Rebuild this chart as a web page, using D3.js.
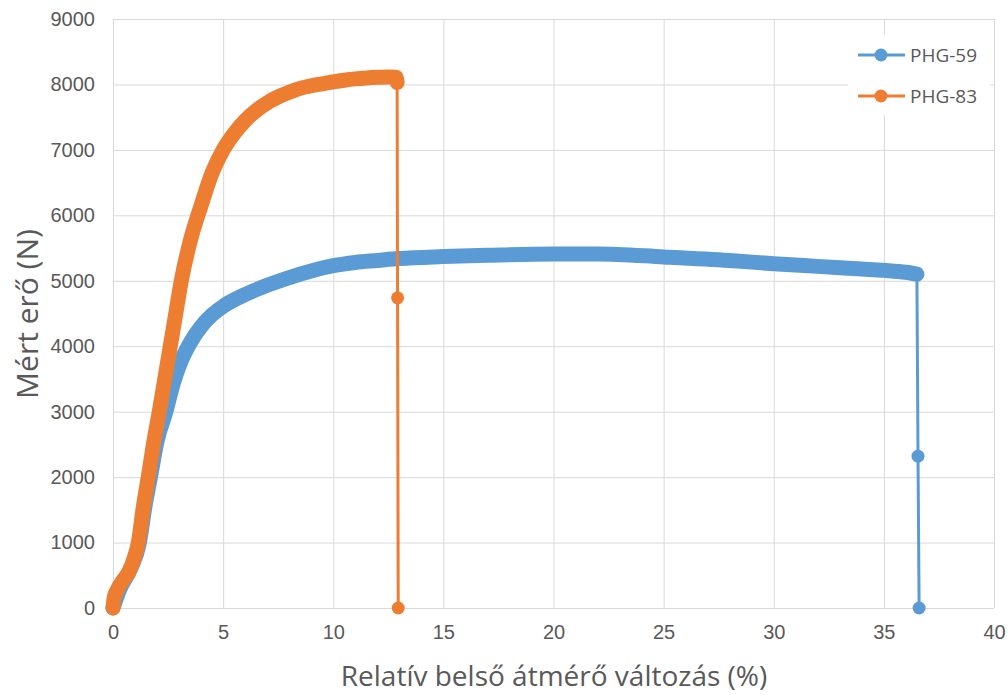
<!DOCTYPE html>
<html>
<head>
<meta charset="utf-8">
<script src="https://cdn.jsdelivr.net/npm/d3@7"></script>
<style>
  body { margin: 0; background: #fff; }
  svg { display: block; font-family: "Open Sans", sans-serif; }
  .tick text { fill: #595959; font-size: 20px; }
  .grid line { stroke: #d9d9d9; stroke-width: 1; }
</style>
</head>
<body>
<figure id="chart" style="margin:0"></figure>
<script>
// data: [relative change %, force N]
const seriesNames = ['PHG-59', 'PHG-83'];
const seriesColors = ['#5b9bd5', '#ed7d31'];

const phg59 = [
  [0, 0], [0.3, 280], [0.8, 600], [1.2, 1000], [1.45, 1550], [1.7, 2000],
  [2.0, 2550], [2.4, 3000], [2.75, 3450], [3.1, 3780], [3.5, 4050], [4.0, 4300],
  [4.5, 4480], [5.0, 4610], [6.0, 4790], [7.0, 4930], [8.0, 5050], [9.0, 5150],
  [10.0, 5230], [11.0, 5280], [12.0, 5310], [13.0, 5340], [15.0, 5370],
  [17.0, 5390], [20.0, 5410], [22.0, 5410], [25.0, 5365], [28.0, 5310],
  [30.0, 5260], [32.0, 5220], [34.0, 5180], [35.0, 5160], [36.0, 5130],
  [36.5, 5100], [36.55, 2320], [36.6, 0]
];

const phg83 = [
  [0, 0], [0.05, 150], [0.2, 280], [0.45, 420], [0.73, 560], [0.95, 750],
  [1.15, 1000], [1.38, 1550], [1.6, 2000], [1.87, 2570], [2.1, 3000],
  [2.35, 3500], [2.6, 4000], [2.85, 4500], [3.1, 5000], [3.5, 5600],
  [4.0, 6150], [4.5, 6650], [5.0, 7000], [5.5, 7250], [6.0, 7450],
  [6.5, 7600], [7.0, 7720], [7.5, 7810], [8.0, 7880], [8.5, 7940],
  [9.0, 7980], [9.5, 8010], [10.0, 8040], [10.5, 8065], [11.0, 8085],
  [11.5, 8100], [12.0, 8110], [12.5, 8115], [12.85, 8110], [12.9, 8030],
  [12.92, 4740], [12.95, 0]
];

const xTicks = [0, 5, 10, 15, 20, 25, 30, 35, 40];
const yTicks = [0, 1000, 2000, 3000, 4000, 5000, 6000, 7000, 8000, 9000];
const xTitle = 'Relatív belső átmérő változás (%)';
const yTitle = 'Mért erő (N)';

const W = 1008, H = 695;
const plotLeft = 113, plotRight = 994, plotTop = 19, plotBottom = 608;

const svg = d3.select('figure#chart')
  .append('svg')
  .attr('width', W)
  .attr('height', H);

const x = d3.scaleLinear().domain([0, 40]).range([plotLeft, plotRight]);
const y = d3.scaleLinear().domain([0, 9000]).range([plotBottom, plotTop]);

// grid + tick labels
svg.append('g')
  .attr('class', 'grid')
  .attr('transform', 'translate(' + plotLeft + ',0)')
  .call(d3.axisLeft(y).tickValues(yTicks).tickSize(-(plotRight - plotLeft)).tickPadding(18).tickFormat(d3.format('d')))
  .call(g => g.select('.domain').remove());

svg.append('g')
  .attr('class', 'grid')
  .attr('transform', 'translate(0,' + plotBottom + ')')
  .call(d3.axisBottom(x).tickValues(xTicks).tickSize(-(plotBottom - plotTop)).tickPadding(17).tickFormat(d3.format('d')))
  .call(g => g.select('.domain').remove());

// series
const line = d3.line().x(d => x(d[0])).y(d => y(d[1]));
const smooth = d3.line().curve(d3.curveMonotoneX).x(d => x(d[0])).y(d => y(d[1]));

[phg59, phg83].forEach((data, i) => {
  const color = seriesColors[i];
  const dense = data.slice(0, data.length - 2);
  // the dense measured points overlap into a thick band
  svg.append('path')
    .attr('d', smooth(dense))
    .attr('fill', 'none')
    .attr('stroke', color)
    .attr('stroke-width', 15)
    .attr('stroke-linejoin', 'round')
    .attr('stroke-linecap', 'round');
  svg.append('path')
    .attr('d', line(data.slice(data.length - 3)))
    .attr('fill', 'none')
    .attr('stroke', color)
    .attr('stroke-width', 3);
  svg.append('g').selectAll('circle')
    .data(data.slice(data.length - 3))
    .enter()
    .append('circle')
    .attr('cx', d => x(d[0]))
    .attr('cy', d => y(d[1]))
    .attr('r', 6.5)
    .attr('fill', color);
});

// legend
const legend = svg.append('g');
legend.append('rect')
  .attr('x', 848).attr('y', 35)
  .attr('width', 142).attr('height', 80)
  .attr('fill', '#fff');
seriesNames.forEach((name, i) => {
  const ly = 55 + i * 41;
  legend.append('line')
    .attr('x1', 858).attr('x2', 905)
    .attr('y1', ly).attr('y2', ly)
    .attr('stroke', seriesColors[i])
    .attr('stroke-width', 3);
  legend.append('circle')
    .attr('cx', 881).attr('cy', ly).attr('r', 6.5)
    .attr('fill', seriesColors[i]);
  legend.append('text')
    .attr('x', 910).attr('y', ly)
    .attr('dy', '0.35em')
    .attr('fill', '#595959')
    .style('font-size', '19px')
    .text(name);
});

// axis titles
svg.append('text')
  .attr('x', 554)
  .attr('y', 676)
  .attr('text-anchor', 'middle')
  .attr('dy', '0.35em')
  .attr('fill', '#595959')
  .style('font-size', '28px')
  .text(xTitle);

svg.append('text')
  .attr('transform', 'translate(27,314)rotate(-90)')
  .attr('text-anchor', 'middle')
  .attr('dy', '0.35em')
  .attr('fill', '#595959')
  .style('font-size', '30px')
  .text(yTitle);
</script>
</body>
</html>
